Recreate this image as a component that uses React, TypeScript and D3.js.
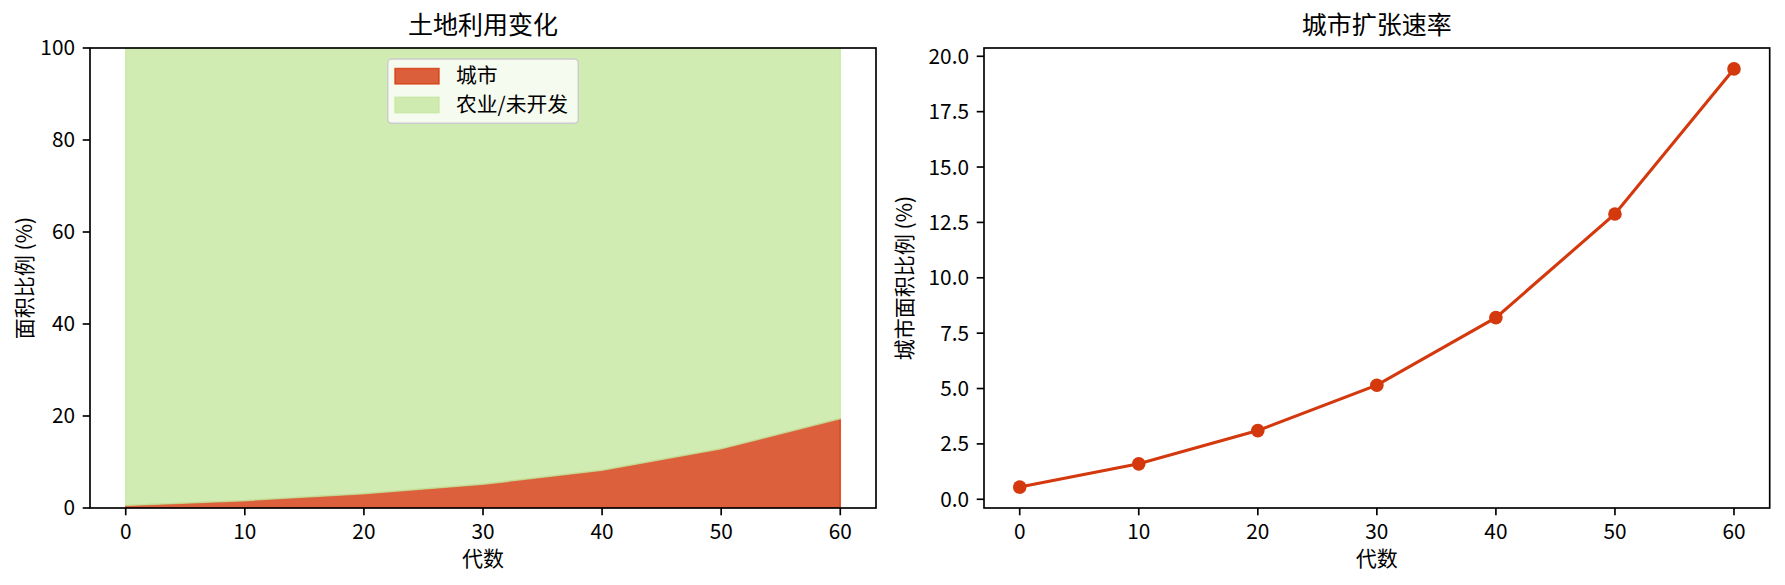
import React from "react";
import * as d3 from "d3";

const generations = [0, 10, 20, 30, 40, 50, 60];
const urbanPct = [0.55, 1.6, 3.1, 5.15, 8.2, 12.88, 19.43];
const leftYTicks = [0, 20, 40, 60, 80, 100];
const rightYTicks = [0, 2.5, 5, 7.5, 10, 12.5, 15, 17.5, 20];
const xTicks = [0, 10, 20, 30, 40, 50, 60];
const legendLabels = ["城市", "农业/未开发"];
const titles = ["土地利用变化", "城市扩张速率"];
const xLabel = "代数";
const yLabels = ["面积比例 (%)", "城市面积比例 (%)"];

const W = 1785;
const H = 585;
const FONT = "'Noto Sans CJK SC', 'Noto Sans', sans-serif";
const RED = "#D4380D";
const GREEN = "#C6E7A0";
const TICK_FS = 20.8;
const LABEL_FS = 21;
const TITLE_FS = 25;

const top = 48;
const bottom = 508;
const panels = [
  { left: 90, right: 876 },
  { left: 984, right: 1769.7 },
];

function Axes({ left, right, x, y, yTicks, fmt, title, yLabel, yLabelX }: any) {
  return (
    <g>
      {/* x ticks */}
      {xTicks.map((t) => (
        <g key={"x" + t}>
          <line x1={x(t)} x2={x(t)} y1={bottom} y2={bottom + 7.3} stroke="#000" strokeWidth={1.67} />
          <text x={x(t)} y={539} fontSize={TICK_FS} textAnchor="middle" fontFamily={FONT} fill="#000">
            {t}
          </text>
        </g>
      ))}
      {yTicks.map((t: number) => (
        <g key={"y" + t}>
          <line x1={left - 7.3} x2={left} y1={y(t)} y2={y(t)} stroke="#000" strokeWidth={1.67} />
          <text x={left - 15} y={y(t)} dy="0.36em" fontSize={TICK_FS} textAnchor="end" fontFamily={FONT} fill="#000">
            {fmt(t)}
          </text>
        </g>
      ))}
      <rect x={left} y={top} width={right - left} height={bottom - top} fill="none" stroke="#000" strokeWidth={1.67} />
      <text x={(left + right) / 2} y={34} fontSize={TITLE_FS} textAnchor="middle" fontFamily={FONT} fill="#000">
        {title}
      </text>
      <text x={(left + right) / 2} y={566} fontSize={LABEL_FS} textAnchor="middle" fontFamily={FONT} fill="#000">
        {xLabel}
      </text>
      <text
        transform={`translate(${yLabelX},${(top + bottom) / 2}) rotate(-90)`}
        dy="0.36em"
        fontSize={LABEL_FS}
        textAnchor="middle"
        fontFamily={FONT}
        fill="#000"
      >
        {yLabel}
      </text>
    </g>
  );
}

export default function App() {
  const p0 = panels[0];
  const p1 = panels[1];
  const x0 = d3.scaleLinear().domain([-3, 63]).range([p0.left, p0.right]);
  const y0 = d3.scaleLinear().domain([0, 100]).range([bottom, top]);
  const x1 = d3.scaleLinear().domain([-3, 63]).range([p1.left, p1.right]);
  const mn = d3.min(urbanPct)!;
  const mx = d3.max(urbanPct)!;
  const span = mx - mn;
  const y1 = d3.scaleLinear().domain([mn - 0.05 * span, mx + 0.05 * span]).range([bottom, top]);

  const rows = generations.map((g, i) => ({ g, urban: urbanPct[i], agri: 100 - urbanPct[i] }));
  const stacked = d3.stack<any>().keys(["urban", "agri"])(rows as any);
  const area = d3
    .area<any>()
    .x((d: any) => x0(d.data.g))
    .y0((d: any) => y0(d[0]))
    .y1((d: any) => y0(d[1]));
  const line = d3
    .line<number>()
    .x((_, i) => x1(generations[i]))
    .y((d) => y1(d));

  const colors = [RED, GREEN];

  // legend
  const lgX = 387.7;
  const lgY = 59;
  const lgW = 190.6;
  const lgH = 64.3;

  return (
    <svg width={W} height={H} style={{ position: "absolute", left: 0, top: 0, background: "#fff" }}>
      <rect x={0} y={0} width={W} height={H} fill="#fff" />
      <clipPath id="clip0">
        <rect x={p0.left} y={top} width={p0.right - p0.left} height={bottom - top} />
      </clipPath>
      <g clipPath="url(#clip0)">
        {stacked.map((s, i) => (
          <path
            key={i}
            d={area(s as any) || ""}
            fill={colors[i]}
            fillOpacity={0.8}
            stroke={colors[i]}
            strokeOpacity={0.8}
            strokeWidth={1.5}
          />
        ))}
      </g>
      <Axes
        left={p0.left}
        right={p0.right}
        x={x0}
        y={y0}
        yTicks={leftYTicks}
        fmt={(t: number) => String(t)}
        title={titles[0]}
        yLabel={yLabels[0]}
        yLabelX={24}
      />
      {/* legend */}
      <g>
        <rect x={lgX} y={lgY} width={lgW} height={lgH} rx={4} fill="#fff" fillOpacity={0.8} stroke="#ccc" strokeWidth={1.5} />
        {legendLabels.map((lab, i) => (
          <g key={lab}>
            <rect
              x={395}
              y={68.5 + i * 28.8}
              width={44}
              height={15.4}
              fill={colors[i]}
              fillOpacity={0.8}
              stroke={colors[i]}
              strokeOpacity={0.8}
              strokeWidth={1.5}
            />
            <text x={456} y={76 + i * 29} dy="0.36em" fontSize={TICK_FS} fontFamily={FONT} fill="#000">
              {lab}
            </text>
          </g>
        ))}
      </g>

      <Axes
        left={p1.left}
        right={p1.right}
        x={x1}
        y={y1}
        yTicks={rightYTicks}
        fmt={(t: number) => t.toFixed(1)}
        title={titles[1]}
        yLabel={yLabels[1]}
        yLabelX={904}
      />
      <path d={line(urbanPct) || ""} fill="none" stroke={RED} strokeWidth={3.1} />
      {urbanPct.map((v, i) => (
        <circle key={i} cx={x1(generations[i])} cy={y1(v)} r={6.8} fill={RED} />
      ))}
    </svg>
  );
}
